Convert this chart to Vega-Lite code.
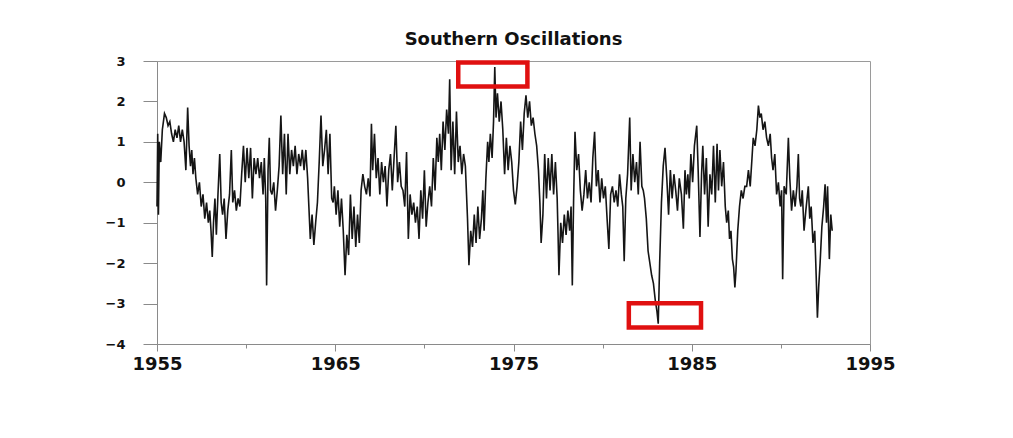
{
  "$schema": "https://vega.github.io/schema/vega-lite/v6.json",
  "width": 713,
  "height": 283,
  "autosize": "none",
  "padding": {"left": 157, "top": 61, "right": 143, "bottom": 94},
  "background": "white",
  "title": {"text": "Southern Oscillations", "fontSize": 18, "font": "DejaVu Sans", "fontWeight": "bold", "color": "#111111", "offset": 6, "anchor": "middle"},
  "config": {
    "view": {"stroke": "#9a9a9a", "strokeWidth": 1},
    "axis": {"domainColor": "#8a8a8a", "tickColor": "#8a8a8a", "grid": false, "labelColor": "#111111", "labelFont": "DejaVu Sans", "labelFontWeight": "bold"}
  },
  "layer": [
    {
      "data": {"values": [
        {"t":1955.00,"v":-0.6},{"t":1955.04,"v":1.2},{"t":1955.08,"v":-0.8},{"t":1955.13,"v":1.0},{"t":1955.21,"v":0.5},{"t":1955.30,"v":1.3},
        {"t":1955.42,"v":1.7},{"t":1955.52,"v":1.6},{"t":1955.62,"v":1.4},{"t":1955.72,"v":1.5},{"t":1955.82,"v":1.2},{"t":1955.92,"v":1.0},
        {"t":1956.02,"v":1.3},{"t":1956.12,"v":1.1},{"t":1956.22,"v":1.4},{"t":1956.32,"v":1.0},{"t":1956.42,"v":1.3},{"t":1956.52,"v":1.0},
        {"t":1956.62,"v":0.3},{"t":1956.72,"v":1.85},{"t":1956.80,"v":0.9},{"t":1956.88,"v":0.4},{"t":1956.95,"v":0.8},{"t":1957.02,"v":0.2},
        {"t":1957.10,"v":0.6},{"t":1957.18,"v":0.1},{"t":1957.28,"v":-0.3},{"t":1957.38,"v":0.0},{"t":1957.48,"v":-0.6},{"t":1957.58,"v":-0.3},
        {"t":1957.68,"v":-0.9},{"t":1957.78,"v":-0.5},{"t":1957.88,"v":-1.0},{"t":1957.96,"v":-0.7},{"t":1958.03,"v":-1.2},{"t":1958.10,"v":-1.85},
        {"t":1958.17,"v":-1.0},{"t":1958.25,"v":-0.4},{"t":1958.33,"v":-1.3},{"t":1958.42,"v":-0.3},{"t":1958.52,"v":0.7},{"t":1958.60,"v":-0.5},
        {"t":1958.68,"v":-0.8},{"t":1958.77,"v":-0.4},{"t":1958.87,"v":-1.4},{"t":1958.97,"v":-0.7},{"t":1959.07,"v":-0.3},{"t":1959.17,"v":0.8},
        {"t":1959.25,"v":-0.5},{"t":1959.35,"v":-0.2},{"t":1959.45,"v":-0.7},{"t":1959.55,"v":-0.4},{"t":1959.65,"v":-0.6},{"t":1959.75,"v":0.2},
        {"t":1959.85,"v":0.9},{"t":1959.95,"v":0.0},{"t":1960.05,"v":0.85},{"t":1960.15,"v":0.1},{"t":1960.25,"v":0.85},{"t":1960.35,"v":-0.4},
        {"t":1960.45,"v":0.6},{"t":1960.55,"v":0.2},{"t":1960.65,"v":0.6},{"t":1960.75,"v":0.1},{"t":1960.85,"v":0.5},{"t":1960.95,"v":-0.3},
        {"t":1961.02,"v":0.6},{"t":1961.10,"v":-0.4},{"t":1961.15,"v":-2.55},{"t":1961.23,"v":0.3},{"t":1961.30,"v":1.1},{"t":1961.37,"v":-0.2},
        {"t":1961.45,"v":-0.3},{"t":1961.55,"v":0.0},{"t":1961.65,"v":-0.7},{"t":1961.75,"v":-0.2},{"t":1961.85,"v":0.4},{"t":1961.95,"v":1.65},
        {"t":1962.05,"v":0.2},{"t":1962.15,"v":1.2},{"t":1962.25,"v":-0.3},{"t":1962.35,"v":1.2},{"t":1962.45,"v":0.2},{"t":1962.55,"v":0.8},
        {"t":1962.65,"v":0.4},{"t":1962.75,"v":0.9},{"t":1962.85,"v":0.2},{"t":1962.95,"v":0.7},{"t":1963.05,"v":0.4},{"t":1963.15,"v":0.8},
        {"t":1963.25,"v":0.3},{"t":1963.35,"v":0.8},{"t":1963.45,"v":0.1},{"t":1963.52,"v":-0.6},{"t":1963.60,"v":-1.4},{"t":1963.70,"v":-0.8},
        {"t":1963.80,"v":-1.55},{"t":1963.90,"v":-1.0},{"t":1964.00,"v":-0.5},{"t":1964.10,"v":0.5},{"t":1964.20,"v":1.65},{"t":1964.30,"v":0.4},
        {"t":1964.40,"v":0.8},{"t":1964.50,"v":1.3},{"t":1964.60,"v":0.2},{"t":1964.70,"v":1.2},{"t":1964.80,"v":-0.4},{"t":1964.88,"v":-0.5},
        {"t":1964.95,"v":-0.1},{"t":1965.05,"v":-0.8},{"t":1965.15,"v":-0.2},{"t":1965.25,"v":-1.1},{"t":1965.35,"v":-0.4},{"t":1965.45,"v":-1.2},
        {"t":1965.55,"v":-2.3},{"t":1965.65,"v":-1.3},{"t":1965.75,"v":-1.8},{"t":1965.85,"v":-0.3},{"t":1965.95,"v":-1.4},{"t":1966.05,"v":-0.6},
        {"t":1966.15,"v":-1.6},{"t":1966.25,"v":-0.8},{"t":1966.35,"v":-1.5},{"t":1966.45,"v":-0.2},{"t":1966.55,"v":0.2},{"t":1966.65,"v":-0.1},
        {"t":1966.75,"v":-0.3},{"t":1966.85,"v":0.1},{"t":1966.95,"v":-0.35},{"t":1967.03,"v":1.45},{"t":1967.10,"v":0.3},{"t":1967.20,"v":1.2},
        {"t":1967.30,"v":0.1},{"t":1967.40,"v":0.6},{"t":1967.50,"v":-0.3},{"t":1967.60,"v":0.5},{"t":1967.70,"v":0.0},{"t":1967.80,"v":0.4},
        {"t":1967.90,"v":-0.6},{"t":1968.00,"v":0.3},{"t":1968.10,"v":0.7},{"t":1968.20,"v":-0.2},{"t":1968.30,"v":0.6},{"t":1968.40,"v":1.4},
        {"t":1968.50,"v":0.0},{"t":1968.60,"v":0.5},{"t":1968.70,"v":-0.1},{"t":1968.80,"v":-0.2},{"t":1968.90,"v":-0.6},{"t":1969.00,"v":0.75},
        {"t":1969.10,"v":-1.4},{"t":1969.20,"v":-0.3},{"t":1969.30,"v":-0.8},{"t":1969.40,"v":-0.5},{"t":1969.50,"v":-1.0},{"t":1969.60,"v":-0.6},
        {"t":1969.70,"v":-1.4},{"t":1969.80,"v":-0.2},{"t":1969.90,"v":-0.9},{"t":1970.00,"v":0.3},{"t":1970.10,"v":-1.1},{"t":1970.20,"v":-0.5},
        {"t":1970.30,"v":-0.1},{"t":1970.40,"v":-0.6},{"t":1970.50,"v":0.6},{"t":1970.60,"v":-0.2},{"t":1970.70,"v":1.1},{"t":1970.78,"v":0.5},
        {"t":1970.86,"v":1.2},{"t":1970.95,"v":0.3},{"t":1971.05,"v":1.5},{"t":1971.15,"v":0.8},{"t":1971.25,"v":1.8},{"t":1971.35,"v":1.2},
        {"t":1971.42,"v":2.55},{"t":1971.50,"v":0.3},{"t":1971.60,"v":1.5},{"t":1971.70,"v":0.2},{"t":1971.80,"v":1.75},{"t":1971.90,"v":0.5},
        {"t":1972.00,"v":0.9},{"t":1972.10,"v":0.2},{"t":1972.20,"v":0.7},{"t":1972.30,"v":0.4},{"t":1972.42,"v":-0.9},{"t":1972.50,"v":-2.05},
        {"t":1972.60,"v":-1.2},{"t":1972.70,"v":-1.6},{"t":1972.80,"v":-0.8},{"t":1972.90,"v":-1.5},{"t":1973.00,"v":-0.6},{"t":1973.10,"v":-1.4},
        {"t":1973.20,"v":-0.9},{"t":1973.28,"v":-0.2},{"t":1973.35,"v":-1.2},{"t":1973.45,"v":0.1},{"t":1973.55,"v":1.0},{"t":1973.62,"v":0.5},
        {"t":1973.70,"v":1.2},{"t":1973.80,"v":0.6},{"t":1973.88,"v":1.5},{"t":1973.95,"v":2.85},{"t":1974.02,"v":1.6},{"t":1974.10,"v":2.2},
        {"t":1974.20,"v":1.5},{"t":1974.30,"v":2.0},{"t":1974.40,"v":1.3},{"t":1974.50,"v":0.2},{"t":1974.60,"v":1.1},{"t":1974.70,"v":0.3},
        {"t":1974.80,"v":0.9},{"t":1974.90,"v":0.5},{"t":1975.00,"v":-0.2},{"t":1975.10,"v":-0.55},{"t":1975.20,"v":-0.1},{"t":1975.30,"v":0.5},
        {"t":1975.40,"v":1.5},{"t":1975.50,"v":0.8},{"t":1975.60,"v":1.7},{"t":1975.70,"v":2.15},{"t":1975.80,"v":1.6},{"t":1975.90,"v":2.0},
        {"t":1976.00,"v":1.4},{"t":1976.10,"v":1.6},{"t":1976.20,"v":1.2},{"t":1976.30,"v":0.9},{"t":1976.40,"v":0.3},{"t":1976.48,"v":-0.5},
        {"t":1976.55,"v":-1.5},{"t":1976.65,"v":-0.8},{"t":1976.75,"v":0.7},{"t":1976.85,"v":-0.4},{"t":1976.95,"v":0.6},{"t":1977.05,"v":-0.2},
        {"t":1977.15,"v":0.7},{"t":1977.25,"v":-0.3},{"t":1977.35,"v":0.5},{"t":1977.45,"v":-0.4},{"t":1977.50,"v":-1.3},{"t":1977.55,"v":-2.3},
        {"t":1977.65,"v":-1.0},{"t":1977.75,"v":-1.5},{"t":1977.85,"v":-0.8},{"t":1977.95,"v":-1.3},{"t":1978.05,"v":-0.7},{"t":1978.15,"v":-1.2},
        {"t":1978.23,"v":-0.6},{"t":1978.30,"v":-2.55},{"t":1978.37,"v":-0.5},{"t":1978.45,"v":1.25},{"t":1978.55,"v":0.3},{"t":1978.65,"v":0.7},
        {"t":1978.75,"v":-0.2},{"t":1978.85,"v":-0.7},{"t":1978.95,"v":-0.3},{"t":1979.05,"v":0.3},{"t":1979.15,"v":-0.4},{"t":1979.25,"v":0.0},
        {"t":1979.35,"v":-0.5},{"t":1979.45,"v":0.6},{"t":1979.55,"v":1.25},{"t":1979.65,"v":-0.1},{"t":1979.75,"v":0.3},{"t":1979.85,"v":-0.5},
        {"t":1979.95,"v":0.1},{"t":1980.05,"v":-0.4},{"t":1980.15,"v":-0.1},{"t":1980.25,"v":-0.9},{"t":1980.35,"v":-1.65},{"t":1980.45,"v":-0.3},
        {"t":1980.55,"v":-0.1},{"t":1980.65,"v":-0.5},{"t":1980.75,"v":-0.2},{"t":1980.85,"v":-0.6},{"t":1980.95,"v":0.2},{"t":1981.05,"v":-0.3},
        {"t":1981.13,"v":-0.6},{"t":1981.21,"v":-1.95},{"t":1981.30,"v":-0.4},{"t":1981.40,"v":0.2},{"t":1981.52,"v":1.6},{"t":1981.60,"v":-0.2},
        {"t":1981.70,"v":0.7},{"t":1981.80,"v":0.0},{"t":1981.90,"v":0.5},{"t":1982.00,"v":-0.3},{"t":1982.10,"v":1.0},{"t":1982.20,"v":-0.1},
        {"t":1982.28,"v":-0.2},{"t":1982.35,"v":-0.4},{"t":1982.45,"v":-0.9},{"t":1982.55,"v":-1.7},{"t":1982.65,"v":-2.0},{"t":1982.75,"v":-2.3},
        {"t":1982.85,"v":-2.5},{"t":1982.95,"v":-2.9},{"t":1983.05,"v":-3.2},{"t":1983.12,"v":-3.5},{"t":1983.20,"v":-2.0},{"t":1983.30,"v":-0.5},
        {"t":1983.40,"v":0.4},{"t":1983.50,"v":0.85},{"t":1983.60,"v":0.1},{"t":1983.70,"v":-0.8},{"t":1983.80,"v":0.3},{"t":1983.90,"v":-0.4},
        {"t":1984.00,"v":0.2},{"t":1984.10,"v":-0.2},{"t":1984.20,"v":-0.7},{"t":1984.30,"v":0.1},{"t":1984.42,"v":-0.3},{"t":1984.53,"v":-1.15},
        {"t":1984.62,"v":0.3},{"t":1984.70,"v":-0.3},{"t":1984.78,"v":0.2},{"t":1984.86,"v":-0.4},{"t":1984.95,"v":0.7},{"t":1985.05,"v":0.0},
        {"t":1985.15,"v":0.9},{"t":1985.28,"v":1.4},{"t":1985.36,"v":0.3},{"t":1985.46,"v":-1.35},{"t":1985.55,"v":0.2},{"t":1985.62,"v":0.9},
        {"t":1985.72,"v":-0.3},{"t":1985.82,"v":0.6},{"t":1985.92,"v":-1.1},{"t":1986.02,"v":0.2},{"t":1986.12,"v":-0.3},{"t":1986.22,"v":0.9},
        {"t":1986.32,"v":-0.5},{"t":1986.42,"v":0.95},{"t":1986.50,"v":-0.2},{"t":1986.58,"v":0.8},{"t":1986.68,"v":-0.1},{"t":1986.78,"v":0.5},
        {"t":1986.88,"v":-0.6},{"t":1986.96,"v":-1.0},{"t":1987.05,"v":-0.7},{"t":1987.12,"v":-1.4},{"t":1987.20,"v":-1.2},{"t":1987.28,"v":-1.9},
        {"t":1987.35,"v":-2.1},{"t":1987.42,"v":-2.6},{"t":1987.48,"v":-2.2},{"t":1987.58,"v":-1.2},{"t":1987.68,"v":-0.6},{"t":1987.78,"v":-0.2},
        {"t":1987.88,"v":-0.4},{"t":1987.98,"v":-0.1},{"t":1988.08,"v":-0.1},{"t":1988.18,"v":0.3},{"t":1988.28,"v":-0.1},{"t":1988.38,"v":0.6},
        {"t":1988.45,"v":1.1},{"t":1988.55,"v":0.9},{"t":1988.65,"v":1.3},{"t":1988.74,"v":1.9},{"t":1988.82,"v":1.6},{"t":1988.90,"v":1.7},
        {"t":1989.00,"v":1.3},{"t":1989.10,"v":1.5},{"t":1989.20,"v":1.1},{"t":1989.30,"v":0.9},{"t":1989.40,"v":1.2},{"t":1989.48,"v":0.6},
        {"t":1989.56,"v":0.3},{"t":1989.66,"v":0.7},{"t":1989.76,"v":-0.3},{"t":1989.86,"v":0.0},{"t":1989.96,"v":-0.6},{"t":1990.04,"v":-0.2},
        {"t":1990.10,"v":-2.4},{"t":1990.18,"v":-0.1},{"t":1990.30,"v":-0.3},{"t":1990.42,"v":1.1},{"t":1990.50,"v":0.1},{"t":1990.60,"v":-0.7},
        {"t":1990.70,"v":-0.2},{"t":1990.80,"v":-0.6},{"t":1990.90,"v":-0.1},{"t":1990.98,"v":0.7},{"t":1991.05,"v":-0.4},{"t":1991.12,"v":-0.6},
        {"t":1991.20,"v":-0.2},{"t":1991.30,"v":-1.2},{"t":1991.40,"v":-0.7},{"t":1991.54,"v":-0.1},{"t":1991.62,"v":-0.9},{"t":1991.70,"v":-0.6},
        {"t":1991.80,"v":-1.5},{"t":1991.90,"v":-1.2},{"t":1991.98,"v":-2.3},{"t":1992.05,"v":-3.35},{"t":1992.12,"v":-2.6},{"t":1992.20,"v":-2.0},
        {"t":1992.30,"v":-1.1},{"t":1992.40,"v":-0.6},{"t":1992.48,"v":-0.05},{"t":1992.56,"v":-1.0},{"t":1992.62,"v":-0.1},{"t":1992.72,"v":-1.9},
        {"t":1992.80,"v":-0.8},{"t":1992.88,"v":-1.2}
      ]},
      "mark": {"type": "line", "color": "#151515", "strokeWidth": 1.6},
      "encoding": {
        "x": {"field": "t", "type": "quantitative",
          "scale": {"domain": [1955, 1995], "nice": false, "zero": false},
          "axis": {"title": null, "values": [1955, 1960, 1965, 1970, 1975, 1980, 1985, 1990, 1995], "format": "d",
            "labelExpr": "datum.value % 10 == 5 ? datum.label : ''", "labelOverlap": false, "labelFlush": false,
            "tickSize": {"condition": {"test": "datum.value % 10 == 5", "value": 7}, "value": 4},
            "labelFontSize": 18, "labelPadding": 4}},
        "y": {"field": "v", "type": "quantitative",
          "scale": {"domain": [-4, 3], "nice": false, "zero": false},
          "axis": {"title": null, "values": [-4, -3.5, -3, -2.5, -2, -1.5, -1, -0.5, 0, 0.5, 1, 1.5, 2, 2.5, 3],
            "labelExpr": "datum.value % 1 == 0 ? datum.label : ''", "labelOverlap": false, "labelFlush": false,
            "tickSize": {"condition": {"test": "datum.value % 1 != 0", "value": 5}, "value": 14},
            "labelFontSize": 13, "labelPadding": 18}}
      }
    },
    {
      "data": {"values": [
        {"x1": 1971.9, "x2": 1975.78, "y1": 2.96, "y2": 2.37},
        {"x1": 1981.47, "x2": 1985.52, "y1": -2.99, "y2": -3.59}
      ]},
      "mark": {"type": "rect", "filled": false, "color": "#e01010", "strokeWidth": 4.5},
      "encoding": {
        "x": {"field": "x1", "type": "quantitative"},
        "x2": {"field": "x2"},
        "y": {"field": "y1", "type": "quantitative"},
        "y2": {"field": "y2"}
      }
    }
  ]
}
